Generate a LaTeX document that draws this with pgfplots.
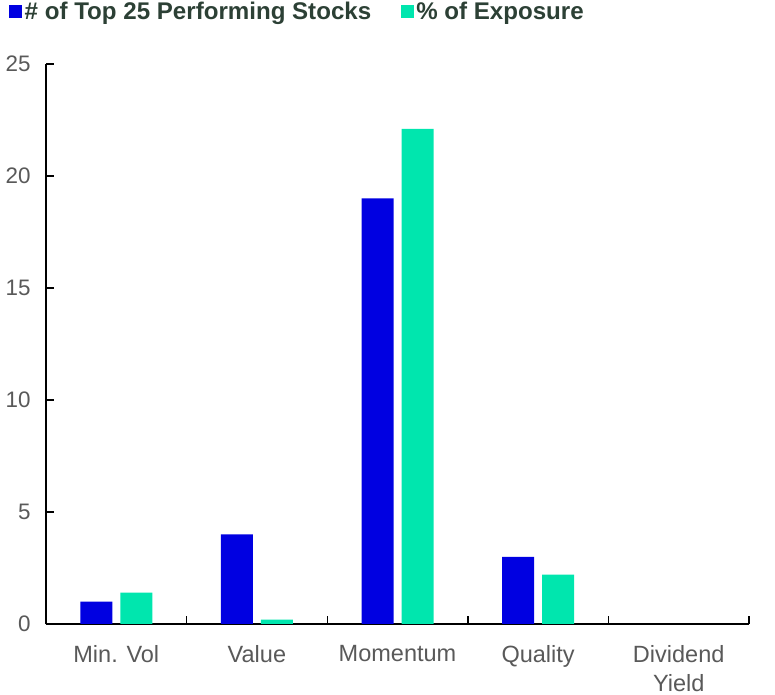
\documentclass[border=0pt]{standalone}
\usepackage{fontspec}
\setmainfont{Liberation Sans}
\usepackage{pgfplots}
\pgfplotsset{compat=1.18}
\definecolor{cblue}{HTML}{0000E1}
\definecolor{cteal}{HTML}{00E6AE}
\definecolor{cgray}{HTML}{595959}
\definecolor{cleg}{HTML}{2C4035}
\begin{document}
\begin{tikzpicture}
\path[use as bounding box] (0,0) rectangle (775bp,695bp);
\begin{axis}[
  at={(46bp,71bp)}, anchor=south west,
  scale only axis, width=703bp, height=560bp,
  ybar=8bp, bar width=32bp,
  xmin=-0.5, xmax=4.5, ymin=0, ymax=25,
  axis x line*=bottom, axis y line*=left,
  axis line style={-, line width=1.4bp, black},
  xtick={0,1,2,3,4},
  xticklabels={Min. Vol,Value,Momentum,Quality,Dividend\\Yield},
  major x tick style={draw=none},
  minor xtick={-0.5,0.5,1.5,2.5,3.5,4.5},
  minor x tick style={line width=1.4bp, black},
  minor tick length=8bp,
  xtick align=inside, ytick align=inside,
  ytick={0,5,10,15,20,25},
  major y tick style={line width=1.4bp, black},
  major tick length=8bp,
  /pgf/number format/assume math mode=true,
  tick label style={text=cgray},
  xticklabel style={align=center, yshift=-18bp, font=\fontsize{23.6}{29}\selectfont},
  yticklabel style={xshift=-12bp, font=\fontsize{22.5}{27}\selectfont},
  legend columns=2,
  legend style={draw=none, fill=none, at={(-0.0526,1.093)}, anchor=west,
    inner sep=0pt, font=\fontsize{24.2}{28}\bfseries\selectfont, text=cleg,
    nodes={inner sep=2.5bp},
    /tikz/every even column/.append style={column sep=27bp}},
  legend image code/.code={\path[#1,draw=none] (0bp,-6.5bp) rectangle (13bp,6.5bp);},
]
\addplot[fill=cblue, draw=none] coordinates {(0,1) (1,4) (2,19) (3,3) (4,0)};
\addplot[fill=cteal, draw=none] coordinates {(0,1.4) (1,0.2) (2,22.1) (3,2.2) (4,0)};
\legend{\# of Top 25 Performing Stocks, \% of Exposure}
\end{axis}
\end{tikzpicture}
\end{document}
